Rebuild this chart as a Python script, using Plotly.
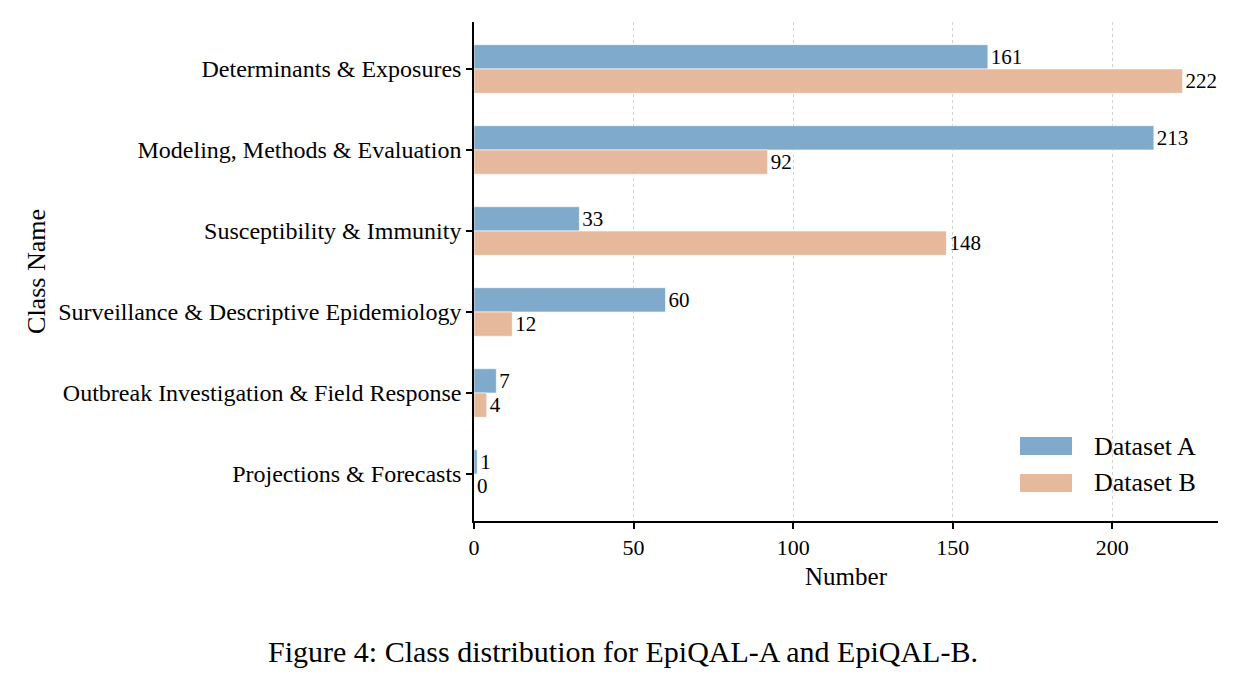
import plotly.graph_objects as go

categories = [
    "Determinants & Exposures",
    "Modeling, Methods & Evaluation",
    "Susceptibility & Immunity",
    "Surveillance & Descriptive Epidemiology",
    "Outbreak Investigation & Field Response",
    "Projections & Forecasts",
]
dataset_a = [161, 213, 33, 60, 7, 1]
dataset_b = [222, 92, 148, 12, 4, 0]
series_names = ["Dataset A", "Dataset B"]
x_ticks = [0, 50, 100, 150, 200]

FONT = "Liberation Serif"
BLUE = "#7FAACB"
ORANGE = "#E7B99C"
colors = [BLUE, ORANGE]

fig = go.Figure()
for name, vals, col in zip(series_names, [dataset_a, dataset_b], colors):
    fig.add_trace(go.Bar(
        name=name, y=categories, x=vals, orientation="h",
        marker=dict(color=col, line=dict(color="white", width=0.6)),
        text=[str(v) for v in vals], textposition="outside",
        textfont=dict(family=FONT, size=21, color="black"),
        constraintext="none", cliponaxis=False, showlegend=False,
    ))

fig.update_layout(
    width=1247, height=684,
    margin=dict(l=474, r=29, t=22, b=163),
    plot_bgcolor="white", paper_bgcolor="white",
    barmode="group", bargap=0.4, bargroupgap=0,
    font=dict(family=FONT, size=22, color="black"),
    showlegend=False,
)
fig.update_xaxes(
    range=[0, 233.1], tickvals=x_ticks, ticktext=[str(t) for t in x_ticks],
    showline=True, linecolor="black", linewidth=1.5, mirror=False,
    ticks="outside", ticklen=6, tickwidth=1.5, tickcolor="black",
    showgrid=True, gridcolor="#D2D2D2", griddash="dot", gridwidth=1,
    zeroline=False,
    title=dict(text="Number", font=dict(family=FONT, size=25), standoff=8),
    tickfont=dict(family=FONT, size=22),
)
fig.update_yaxes(
    categoryorder="array", categoryarray=categories,
    range=[5.58, -0.58],
    showline=True, linecolor="black", linewidth=1.5,
    ticks="outside", ticklen=6, tickwidth=1.5, tickcolor="black",
    showgrid=False, zeroline=False,
    title=dict(text="Class Name", font=dict(family=FONT, size=26), standoff=5),
    tickfont=dict(family=FONT, size=24),
)

# custom legend (wide swatches like the reference)
leg_y = [0.1503, 0.0762]
for name, col, yc in zip(series_names, colors, leg_y):
    fig.add_shape(type="rect", xref="paper", yref="paper",
                  x0=0.7339, x1=0.8038, y0=yc - 0.018, y1=yc + 0.018,
                  fillcolor=col, line=dict(width=0))
    fig.add_annotation(text=name, xref="paper", yref="paper", x=0.830, y=yc,
                       xanchor="left", yanchor="middle", showarrow=False,
                       font=dict(family=FONT, size=26, color="black"))

fig.add_annotation(
    text="Figure 4: Class distribution for EpiQAL-A and EpiQAL-B.",
    xref="paper", yref="paper", x=0.1996, y=-0.2625,
    xanchor="center", yanchor="middle", showarrow=False,
    font=dict(family=FONT, size=30, color="black"),
)
fig.write_html("out.html")
